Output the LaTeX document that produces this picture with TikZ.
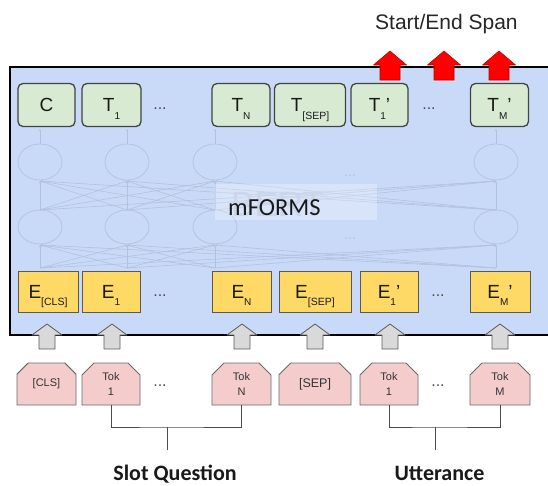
\documentclass[tikz,border=0pt]{standalone}
\usepackage{fontspec}
\setmainfont{Liberation Sans}
\newfontfamily\calibri{Carlito}
\usetikzlibrary{arrows.meta,shapes.misc}
\definecolor{bgblue}{HTML}{C9DAF8}
\definecolor{tgreen}{HTML}{D9EAD3}
\definecolor{tborder}{HTML}{434343}
\definecolor{eyellow}{HTML}{FFD966}
\definecolor{eborder}{HTML}{595959}
\definecolor{tokpink}{HTML}{F4CCCC}
\definecolor{tokborder}{HTML}{6A6A6A}
\definecolor{gfill}{HTML}{D9D9D9}
\definecolor{gborder}{HTML}{5A5A5A}
\definecolor{ghostc}{HTML}{B2C1DC}
\definecolor{bertc}{HTML}{B8C7E3}
\definecolor{redborder}{HTML}{C00000}
\newcommand{\sbs}[1]{\smash{\raisebox{-7.5pt}{\fontsize{10}{10}\selectfont #1}}}
\newcommand{\sbl}[1]{\smash{\raisebox{-7.5pt}{\fontsize{10.5}{10.5}\selectfont #1}}}
\newcommand{\prm}{\smash{'}}
\begin{document}
\begin{tikzpicture}[x=1pt,y=-1pt,
  mainbox/.style={draw=black, line width=2.2pt, fill=bgblue, inner sep=0pt, anchor=north west},
  tbox/.style={draw=tborder, line width=1.3pt, fill=tgreen, rounded corners=5pt,
    minimum height=43pt, inner sep=0pt, text=black!90, font=\fontsize{19}{19}\selectfont},
  ebox/.style={draw=eborder, line width=0.9pt, fill=eyellow, minimum height=41pt,
    inner sep=0pt, text=black!90, font=\fontsize{19}{19}\selectfont},
  tokbox/.style={draw=tokborder, line width=0.9pt, fill=tokpink, chamfered rectangle,
    chamfered rectangle corners={north west,north east}, chamfered rectangle sep=6pt,
    minimum height=42pt, inner sep=0pt, align=center, text=black!80,
    font=\fontsize{11}{15}\selectfont},
  dots/.style={text=black!70, font=\fontsize{16}{16}\selectfont, inner sep=0pt},
  ghost/.style={draw=ghostc, line width=0.7pt},
  ghostarrow/.style={ghostc, line width=0.6pt, -{Stealth[length=2.5pt,width=2.2pt]}},
  garrow/.style={fill=gfill, draw=gborder, line width=0.8pt, line join=round},
  rarrow/.style={fill=red, draw=redborder, line width=0.6pt, line join=round},
  bracket/.style={draw=black!70, line width=1pt},
  biglabel/.style={anchor=base, inner sep=0pt, text=black!90, font=\calibri\bfseries\fontsize{22}{22}\selectfont}
]
\useasboundingbox (0,0) rectangle (548,485);
\begin{scope}
\clip (0,0) rectangle (548,485);
% main box
\node[mainbox, minimum width=560pt, minimum height=268pt] (bert) at (9,66) {};
\end{scope}

% ghost network
\foreach \i in {40,127,215,496} {
  \draw[ghost] (\i,162) ellipse [x radius=22pt, y radius=18pt];
  \draw[ghost] (\i,227) ellipse [x radius=22pt, y radius=17pt];
  \draw[ghostarrow] (\i,144) -- (\i,129);
  \foreach \j in {40,127,215,496} {
    \draw[ghostarrow] (\i,210) -- (\j,181);
    \draw[ghostarrow] (\i,268) -- (\j,245);
  }
}
\node[text=ghostc, font=\fontsize{14}{14}\selectfont, inner sep=0pt] (gd1) at (350,176) {...};
\node[text=ghostc, font=\fontsize{14}{14}\selectfont, inner sep=0pt] (gd2) at (350,239) {...};
\node[anchor=base west, inner sep=0pt, text=bertc, font=\fontsize{35}{35}\selectfont] (bertghost) at (231,216) {BERT};
\fill[white, opacity=0.28] (215,184) rectangle (377,220);
\node[anchor=base west, inner sep=0pt, text=black!90, font=\calibri\fontsize{24.5}{24.5}\selectfont] (mforms) at (228,215) {mFORMS};

% output tokens
\node[tbox, minimum width=57pt] (tc) at (46.5,105) {C};
\node[tbox, minimum width=59pt] (t1) at (111.5,105) {T\sbs{1}};
\node[dots] (td1) at (160,109) {...};
\node[tbox, minimum width=58pt] (tn) at (241,105) {T\sbs{N}};
\node[tbox, minimum width=71pt] (tsep) at (310,105) {T\sbl{[SEP]}};
\node[tbox, minimum width=57pt] (t1p) at (379.5,105) {T\sbs{1}\prm};
\node[dots] (td2) at (429,109) {...};
\node[tbox, minimum width=58pt] (tmp) at (499.5,105) {T\sbs{M}\prm};

% embeddings
\node[ebox, minimum width=60pt] (ecls) at (48,291.5) {E\sbl{[CLS]}};
\node[ebox, minimum width=58pt] (e1) at (111,291.5) {E\sbs{1}};
\node[dots] (ed1) at (160,296) {...};
\node[ebox, minimum width=59pt] (en) at (241.5,291.5) {E\sbs{N}};
\node[ebox, minimum width=72pt] (esep) at (315,291.5) {E\sbl{[SEP]}};
\node[ebox, minimum width=58pt] (e1p) at (389,291.5) {E\sbs{1}\prm};
\node[dots] (ed2) at (438,296) {...};
\node[ebox, minimum width=60pt] (emp) at (500,291.5) {E\sbs{M}\prm};

% red output arrows
\foreach \c in {390,444,499} {
  \draw[rarrow] (\c-10,80) -- (\c-10,65) -- (\c-16.5,65) -- (\c,51) -- (\c+16.5,65) -- (\c+10,65) -- (\c+10,80) -- cycle;
}
\node[anchor=base west, inner sep=0pt, text=black!85, font=\fontsize{21}{21}\selectfont] (span) at (375,29.5) {Start/End Span};

% grey input arrows
\foreach \c in {47,112,242,315,390,500} {
  \draw[garrow] (\c-8,349) -- (\c-8,335) -- (\c-15,335) -- (\c,324) -- (\c+15,335) -- (\c+8,335) -- (\c+8,349) -- cycle;
}

% input tokens
\node[tokbox, minimum width=59pt] (tokcls) at (46.5,384) {[CLS]};
\node[tokbox, minimum width=58pt] (tok1) at (111,384) {Tok\\1};
\node[dots] (kd1) at (160,386) {...};
\node[tokbox, minimum width=59pt] (tokn) at (241.5,384) {Tok\\N};
\node[tokbox, minimum width=72pt, font=\fontsize{12.5}{15}\selectfont] (toksep) at (315,384) {[SEP]};
\node[tokbox, minimum width=58pt] (tok1p) at (389,384) {Tok\\1};
\node[dots] (kd2) at (438,386) {...};
\node[tokbox, minimum width=60pt] (tokm) at (500,384) {Tok\\M};

% brackets
\coordinate (sqj) at (167,427);
\coordinate (sqe) at (167,450);
\coordinate (utj) at (435,427);
\coordinate (ute) at (435,450);
\draw[bracket] (tok1.south) |- (sqj) -| (tokn.south);
\draw[bracket] (sqj) -- (sqe);
\draw[bracket] (tok1p.south) |- (utj) -| (tokm.south);
\draw[bracket] (utj) -- (ute);

\node[biglabel] (sq) at (175,480) {Slot Question};
\node[biglabel] (utt) at (439.5,480) {Utterance};
\end{tikzpicture}
\end{document}
